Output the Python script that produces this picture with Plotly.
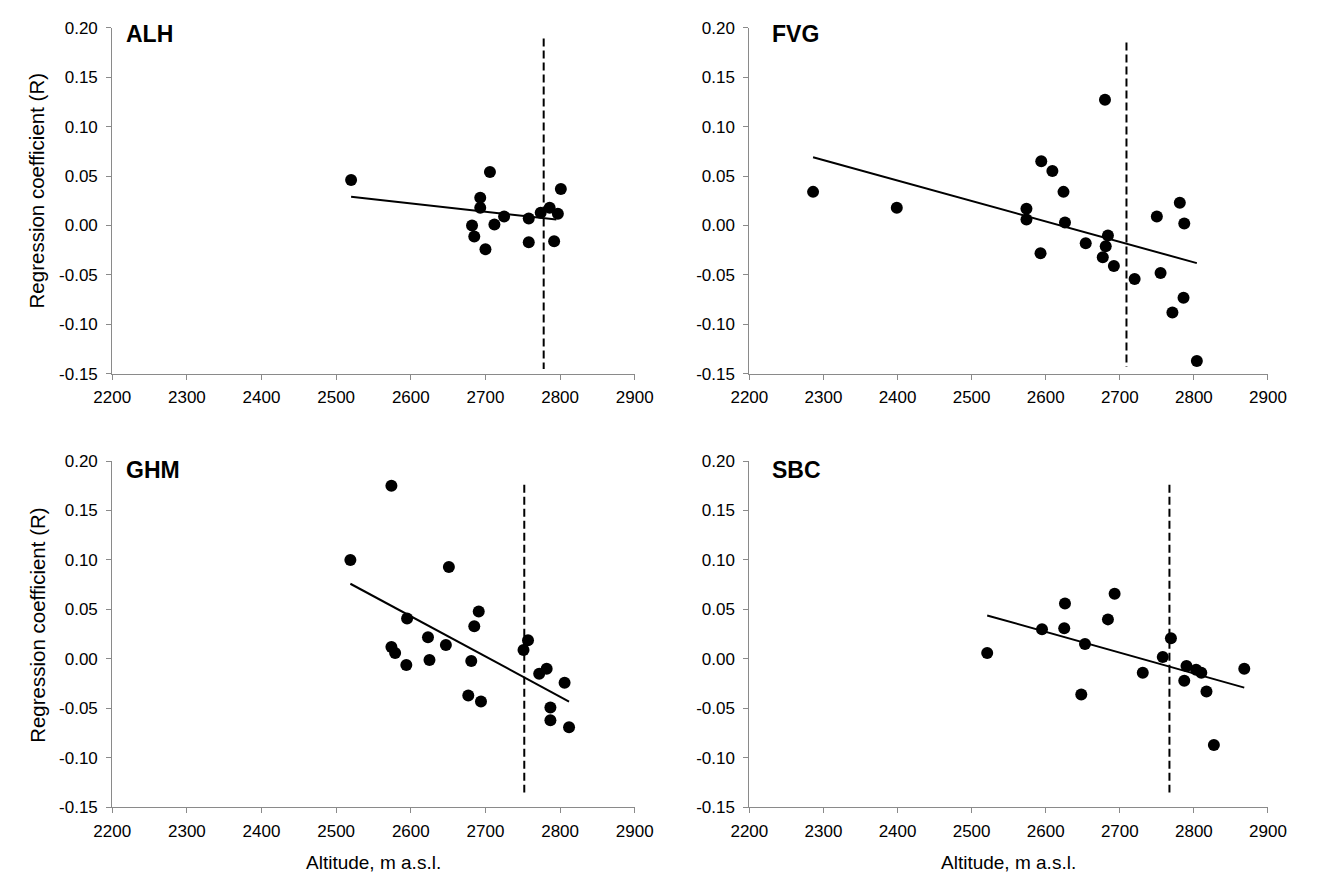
import plotly.graph_objects as go

# ---------------- data ----------------
alh_x = [2520, 2706, 2801, 2693, 2693, 2725, 2758, 2682, 2712, 2685, 2700, 2758, 2792, 2774, 2786, 2797]
alh_y = [0.046, 0.054, 0.037, 0.028, 0.018, 0.009, 0.007, 0.000, 0.001, -0.011, -0.024, -0.017, -0.016, 0.013, 0.018, 0.012]
alh_trend_x = [2520, 2795]
alh_trend_y = [0.029, 0.006]
alh_split_x = 2778
alh_split_y = [0.189, -0.145]

fvg_x = [2286, 2399, 2680, 2594, 2609, 2624, 2574, 2574, 2626, 2593, 2654, 2684, 2681, 2677,
         2692, 2720, 2750, 2781, 2787, 2755, 2786, 2771, 2804]
fvg_y = [0.034, 0.018, 0.127, 0.065, 0.055, 0.034, 0.017, 0.006, 0.003, -0.028, -0.018, -0.010, -0.021, -0.032,
         -0.041, -0.054, 0.009, 0.023, 0.002, -0.048, -0.073, -0.088, -0.137]
fvg_trend_x = [2286, 2804]
fvg_trend_y = [0.069, -0.038]
fvg_split_x = 2709
fvg_split_y = [0.185, -0.143]

ghm_x = [2574, 2519, 2651, 2691, 2685, 2595, 2623, 2647, 2574, 2579, 2594, 2625, 2681, 2677, 2694,
         2757, 2751, 2782, 2772, 2806, 2787, 2787, 2812]
ghm_y = [0.175, 0.100, 0.093, 0.048, 0.033, 0.041, 0.022, 0.014, 0.012, 0.006, -0.006, -0.001, -0.002, -0.037, -0.043,
         0.019, 0.009, -0.010, -0.015, -0.024, -0.049, -0.062, -0.069]
ghm_trend_x = [2519, 2812]
ghm_trend_y = [0.076, -0.043]
ghm_split_x = 2752
ghm_split_y = [0.176, -0.135]

sbc_x = [2521, 2626, 2693, 2684, 2595, 2625, 2653, 2648, 2731, 2758, 2769, 2790, 2803, 2810, 2787, 2817, 2868, 2827]
sbc_y = [0.006, 0.056, 0.066, 0.040, 0.030, 0.031, 0.015, -0.036, -0.014, 0.002, 0.021, -0.007, -0.011, -0.014,
         -0.022, -0.033, -0.010, -0.087]
sbc_trend_x = [2521, 2868]
sbc_trend_y = [0.044, -0.029]
sbc_split_x = 2767
sbc_split_y = [0.176, -0.135]

panel_names = ["ALH", "FVG", "GHM", "SBC"]
x_ticks = [2200, 2300, 2400, 2500, 2600, 2700, 2800, 2900]
y_ticks = [-0.15, -0.10, -0.05, 0.00, 0.05, 0.10, 0.15, 0.20]
y_ticktext = ["-0.15", "-0.10", "-0.05", "0.00", "0.05", "0.10", "0.15", "0.20"]
x_title = "Altitude, m a.s.l."
y_title = "Regression coefficient (R)"

# ---------------- figure ----------------
W, H = 1320, 881
FONT = "Liberation Sans, Arial, sans-serif"

panels = [
    (alh_x, alh_y, alh_trend_x, alh_trend_y, alh_split_x, alh_split_y),
    (fvg_x, fvg_y, fvg_trend_x, fvg_trend_y, fvg_split_x, fvg_split_y),
    (ghm_x, ghm_y, ghm_trend_x, ghm_trend_y, ghm_split_x, ghm_split_y),
    (sbc_x, sbc_y, sbc_trend_x, sbc_trend_y, sbc_split_x, sbc_split_y),
]

# pixel boxes (left, right, top, bottom)
boxes = [(96, 634, 19, 373), (752, 1286, 19, 373), (96, 634, 462, 816), (752, 1286, 462, 816)]

fig = go.Figure()
layout = {}
for i, (px, py, tx, ty, sx, sy) in enumerate(panels):
    n = "" if i == 0 else str(i + 1)
    xa, ya = "x" + n, "y" + n
    fig.add_trace(go.Scatter(x=tx, y=ty, mode="lines", line=dict(color="black", width=2),
                             xaxis=xa, yaxis=ya, showlegend=False, hoverinfo="skip"))
    fig.add_trace(go.Scatter(x=[sx, sx], y=sy, mode="lines",
                             line=dict(color="black", width=2, dash="8px,4px"),
                             xaxis=xa, yaxis=ya, showlegend=False, hoverinfo="skip"))
    fig.add_trace(go.Scatter(x=px, y=py, mode="markers",
                             marker=dict(color="black", size=12, line=dict(width=0)),
                             xaxis=xa, yaxis=ya, showlegend=False, cliponaxis=False))
    l, r, t, b = boxes[i]
    axstyle = dict(showline=True, linecolor="#8a8a8a", linewidth=1, ticks="outside",
                   ticklen=5, tickcolor="#8a8a8a", tickwidth=1, showgrid=False, zeroline=False,
                   tickfont=dict(family=FONT, size=17, color="black"), mirror=False)
    layout["xaxis" + n] = dict(domain=[l / W, r / W], range=[2200, 2900], anchor=ya,
                               tickvals=x_ticks, ticktext=[str(v) for v in x_ticks],
                               ticklabelstandoff=3, **axstyle)
    layout["yaxis" + n] = dict(domain=[1 - b / H, 1 - t / H], range=[-0.15, 0.20], anchor=xa,
                               tickvals=y_ticks, ticktext=y_ticktext,
                               ticklabelstandoff=5, **axstyle)

annotations = []
label_pos = [(108, 26), (773, 26), (108, 471), (773, 471)]
for name, (lx, ly) in zip(panel_names, label_pos):
    annotations.append(dict(text="<b>%s</b>" % name, x=lx / W, y=1 - ly / H, xref="paper", yref="paper",
                            xanchor="left", yanchor="middle", showarrow=False,
                            font=dict(family=FONT, size=23, color="black")))
for cy in [186, 630]:
    annotations.append(dict(text=y_title, x=19 / W, y=1 - cy / H, xref="paper", yref="paper",
                            xanchor="center", yanchor="middle", textangle=-90, showarrow=False,
                            font=dict(family=FONT, size=20.5, color="black")))
for cx in [(96 + 634) / 2, (752 + 1286) / 2]:
    annotations.append(dict(text=x_title, x=cx / W, y=1 - 872 / H, xref="paper", yref="paper",
                            xanchor="center", yanchor="middle", showarrow=False,
                            font=dict(family=FONT, size=19, color="black")))

fig.update_layout(width=W, height=H, margin=dict(l=0, r=0, t=0, b=0),
                  paper_bgcolor="white", plot_bgcolor="white",
                  annotations=annotations, **layout)
fig.write_html("out.html", config={"displayModeBar": False},
               post_script="document.body.style.margin='0';document.body.style.overflow='hidden';")
